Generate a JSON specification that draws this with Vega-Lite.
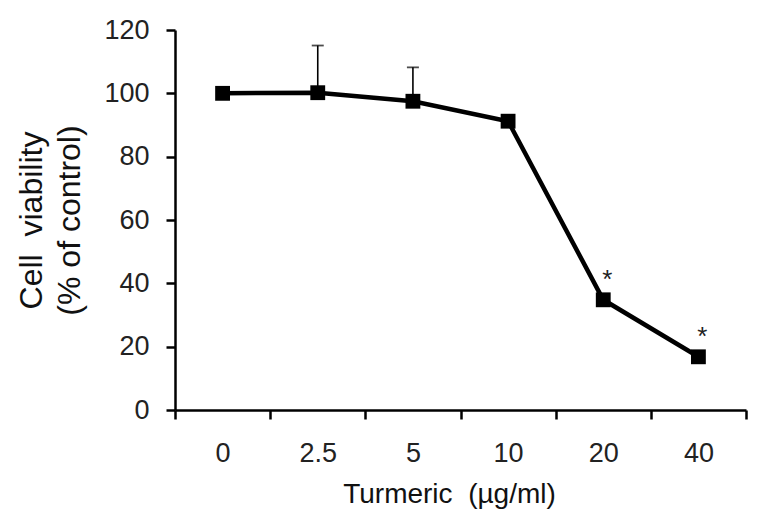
{
  "$schema": "https://vega.github.io/schema/vega-lite/v6.json",
  "width": 571,
  "height": 380,
  "autosize": {"type": "none"},
  "padding": {"left": 175, "top": 30, "right": 14, "bottom": 117},
  "background": "white",
  "config": {
    "view": {"stroke": null},
    "font": "Liberation Sans",
    "axis": {"grid": false, "domainColor": "black", "tickColor": "black", "domainWidth": 2.5, "tickWidth": 2.5, "tickSize": 9, "labelColor": "#222", "titleColor": "#111", "labelFont": "Liberation Sans", "titleFont": "Liberation Sans"}
  },
  "data": {"values": [
    {"dose": "0", "viability": 100, "upper": null, "sig": ""},
    {"dose": "2.5", "viability": 100.2, "upper": 115.1, "sig": ""},
    {"dose": "5", "viability": 97.5, "upper": 108.2, "sig": ""},
    {"dose": "10", "viability": 91.2, "upper": null, "sig": ""},
    {"dose": "20", "viability": 34.8, "upper": null, "sig": "*"},
    {"dose": "40", "viability": 16.8, "upper": null, "sig": "*"}
  ]},
  "encoding": {
    "x": {"field": "dose", "type": "ordinal", "sort": ["0", "2.5", "5", "10", "20", "40"],
      "scale": {"paddingInner": 0, "paddingOuter": 0},
      "axis": {"tickBand": "extent", "labelAngle": 0, "labelFontSize": 27, "labelPadding": 21, "title": "Turmeric \u00a0(µg/ml)", "titleFontSize": 28, "titleFontWeight": "normal", "titlePadding": 14, "titleX": 274}}
  },
  "layer": [
    {
      "transform": [{"filter": "datum.upper != null"}],
      "mark": {"type": "rule", "color": "black", "strokeWidth": 1.6},
      "encoding": {"y": {"field": "viability", "type": "quantitative"}, "y2": {"field": "upper"}}
    },
    {
      "transform": [{"filter": "datum.upper != null"}],
      "mark": {"type": "tick", "color": "black", "thickness": 1.8, "size": 12},
      "encoding": {"y": {"field": "upper", "type": "quantitative"}}
    },
    {
      "mark": {"type": "line", "color": "black", "strokeWidth": 4.5, "point": {"shape": "square", "size": 220, "filled": true, "color": "black", "opacity": 1}},
      "encoding": {
        "y": {"field": "viability", "type": "quantitative",
          "scale": {"domain": [0, 120], "nice": false, "zero": true},
          "axis": {"values": [0, 20, 40, 60, 80, 100, 120], "labelFontSize": 27, "labelPadding": 17,
            "title": ["Cell \u00a0viability", "(% of control)"], "titleFontSize": 32, "titleFontWeight": "normal", "titleLineHeight": 38, "titlePadding": 17}}
      }
    },
    {
      "mark": {"type": "text", "fontSize": 26, "dy": -20, "dx": 4, "color": "#222", "baseline": "middle"},
      "encoding": {"y": {"field": "viability", "type": "quantitative"}, "text": {"field": "sig"}}
    }
  ]
}
